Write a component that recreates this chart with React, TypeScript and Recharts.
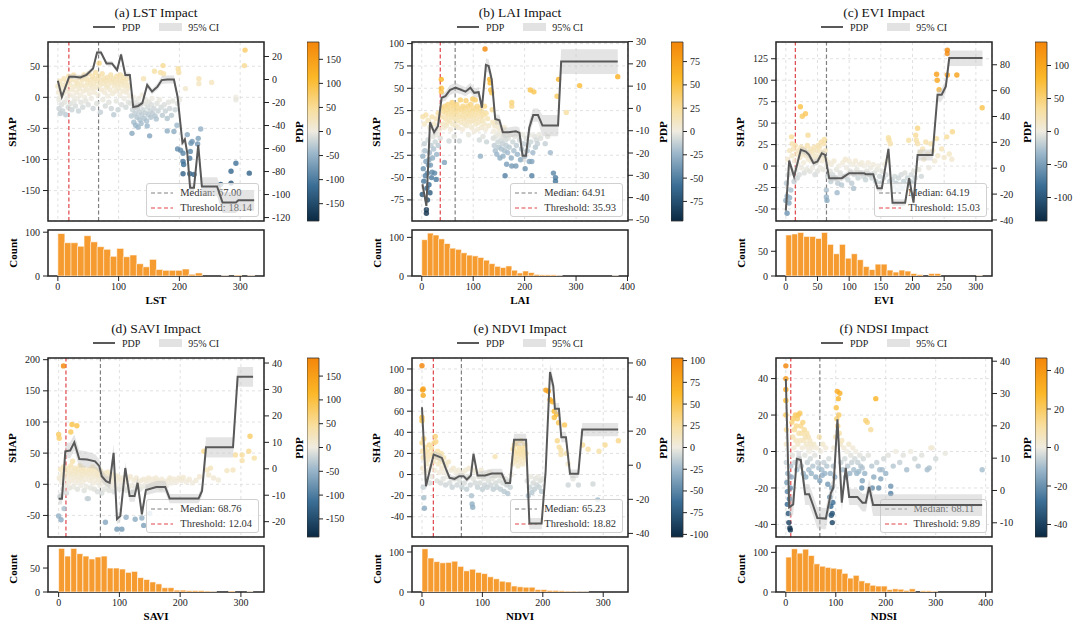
import React from "react";
import {
  ComposedChart,
  BarChart,
  Bar,
  Area,
  Line,
  Scatter,
  XAxis,
  YAxis,
  CartesianGrid,
  ReferenceLine,
  ReferenceArea,
} from "recharts";

const FONT = '"Liberation Serif", "Times New Roman", serif';

// ---------- LST ----------
const lstPoints = [
  [0,18],[1,8],[2,-4],[2,-18],[3,26],[4,12],[4,-26],[5,2],[6,-12],[7,20],[8,-22],[9,6],[10,30],[11,-8],[12,16],[13,-28],[14,24],[15,-2],[16,10],[17,-16],[18,34],[19,4],[20,20],[21,-10],[22,28],[23,-20],[24,12],[25,2],[26,36],[27,-6],[28,18],[29,-14],[30,26],[31,8],[32,-2],[33,22],[34,-22],[35,14],[36,32],[37,4],[38,-8],[39,20],[40,28],[41,-16],[42,10],[43,36],[44,0],[45,18],[46,-6],[47,30],[48,12],[49,24],[50,-12],[51,38],[52,6],[53,20],[54,28],[55,-2],[56,14],[57,34],[58,-18],[59,22],[60,8],[61,30],[62,40],[63,16],[64,-10],[65,26],[66,4],[67,34],[68,55],[69,20],[70,-24],[71,28],[72,12],[73,38],[74,-4],[75,22],[76,30],[77,8],[78,-14],[79,26],[80,16],[81,32],[82,2],[83,20],[84,-8],[85,28],[86,12],[87,36],[88,-18],[89,24],[90,6],[91,30],[92,-28],[93,18],[94,26],[95,10],[96,-6],[97,34],[98,22],[99,-20],[100,14],[101,28],[102,4],[103,36],[104,20],[105,-12],[106,26],[107,10],[108,32],[109,-2],[110,18],[111,24],[112,-16],[113,8],[114,30],[115,14],[116,-8],[117,20],[118,2],
  [120,-10],[121,-30],[122,-58],[123,-20],[124,0],[125,-40],[126,-15],[127,-26],[128,-45],[129,-8],[130,-32],[131,-18],[132,-48],[133,-2],[134,-24],[135,-36],[136,-12],[137,-42],[138,-28],[139,4],[140,-20],[141,30],[142,-34],[143,-10],[144,-25],[145,-4],[146,-38],[147,-46],[148,-16],[149,-28],[150,-8],[151,-62],[152,-22],[153,-32],[154,-12],[155,-2],[156,-26],[158,-18],[159,42],[160,-30],[162,-35],[163,-10],[165,-22],[167,-4],[169,40],[170,-16],[172,-29],[173,51],[174,38],[175,-12],[177,-22],[180,-34],[180,-54],[182,-8],[184,-18],[187,-29],[189,-6],[191,-55],[193,-20],[196,-45],[197,-10],[198,46],[199,40],[200,-4],
  [197,-83],[202,-85],[206,-90],[206,-103],[207,-108],[206,-123],[217,-123],[217,-98],[218,-87],[221,-71],[219,-74],[213,-60],[224,-124],[231,-66],[230,-75],[235,-51],[285,-119],[293,-106],[315,-122],[285,-138],[268,-140],[210,14],[232,30],[232,22],[253,24],[293,0],[293,-4],[307,51],[308,76],
];
const lstPdp = [
  [0,-1,-3,1],[6.6,-15,-17,-13],[18.7,2.4,0.5,4.5],[27,2.4,0.5,4.5],[37,1.8,0,4],[47,4,2,6],[58,9.6,7.5,11.5],[64.5,23.5,21.5,25.5],[71,23.5,21.5,25.5],[80,14,12,16],[89,14,12,16],[97.5,8.2,6,10.5],[104,21.7,19.5,24],[111,4,2,6],[118.5,4,2,6],[124,-24,-26.5,-21.5],[132,-23,-25.5,-20.5],[139,-20.6,-23,-18],[147,-4.8,-7.5,-2],[155,-10.5,-13,-8],[164,-6.2,-9,-3.5],[171,-0.5,-4,3],[180,0,-3.5,3.5],[191,0,-3.5,3.5],[197,-15,-18,-12],[205,-55,-58,-52],[209,-52,-55,-49],[213,-64,-67,-61],[217.6,-94,-97,-91],[224,-94,-97,-91],[231,-57,-60,-54],[237,-93,-101,-85],[262,-93,-101,-85],[271,-107,-116,-98],[293,-107,-116,-98],[297,-105,-114,-96],[323,-105,-114,-96],
];
const lstHist = [97,76,76,68,92,78,67,61,45,63,44,48,28,21,38,15,13,13,13,16,4,7,0,0,0,1,0,2,0,1];
const lstXTicks = [0, 100, 200, 300];
const lstShapTicks = [-150, -100, -50, 0, 50];
const lstPdpTicks = [-120, -100, -80, -60, -40, -20, 0, 20];
const lstCbarTicks = [-150, -100, -50, 0, 50, 100, 150];
const lstHistTicks = [0, 100];

// ---------- LAI ----------
const laiPoints = [
  [1,-69],[2,-26],[3,-40],[4,-54],[5,-12],[6,-20],[7,-48],[8,-32],[9,-86],[9,-90],[10,-62],[11,-45],[11,-75],[12,-8],[13,-36],[14,-58],[14,-30],[15,-22],[16,-67],[17,-36],[18,-14],[19,-50],[20,-44],[21,-28],[22,-4],[23,-18],[25,-45],[26,-10],[28,-52],[29,-24],[30,-2],[32,-14],[34,4],[36,-6],
  [2,18],[5,10],[8,20],[12,14],[16,6],[20,18],[24,10],[28,16],[32,22],
  [38,60],[38,50],[38,46],[39,18],[40,28],[41,10],[42,24],[43,6],[44,-33],[45,30],[46,16],[47,22],[48,8],[49,26],[50,12],[51,32],[52,20],[53,-9],[54,14],[55,28],[56,4],[57,24],[58,18],[59,34],[60,10],[61,22],[62,30],[63,-4],[64,16],[65,26],[66,8],[67,20],[68,32],[69,14],[70,24],[71,6],[72,28],[73,-9],[74,18],[75,37],[76,12],[77,26],[78,20],[79,4],[80,30],[81,16],[82,24],[83,10],[84,28],[85,18],[86,36],[87,8],[88,22],[89,14],[90,30],[91,-2],[92,20],[93,26],[94,12],[95,32],[96,18],[97,6],[98,24],[99,38],[100,14],[101,28],[102,2],[103,20],[104,37],[105,10],[106,26],[107,16],[108,30],[109,4],[110,22],[111,12],[112,-8],[113,28],[114,-26],[115,18],[116,6],[117,24],[118,14],[119,-4],[120,20],[121,10],[122,30],[123,94],[124,4],[125,22],[126,-10],[128,16],[130,8],[132,60],[133,56],[134,48],[136,45],[137,26],[138,12],[139,-6],
  [140,2],[141,-14],[142,8],[143,-20],[144,-4],[145,12],[146,-24],[147,0],[148,-10],[149,6],[150,-16],[151,-2],[152,-28],[153,4],[154,-8],[155,-18],[156,2],[157,-12],[158,-26],[159,-4],[160,6],[161,-20],[162,-48],[163,-8],[164,-14],[165,-35],[166,0],[167,-22],[168,-6],[170,-16],[172,-2],[174,-28],[175,30],[175,34],[175,-37],[177,-10],[179,-20],[181,-4],[183,-37],[184,-14],[186,-24],[188,0],[190,-8],[192,-30],[194,-18],[196,-2],[198,-12],[200,-26],[201,-40],[203,-6],[205,-20],[207,-14],[209,-32],[210,-2],[211,48],[212,-10],[214,-48],[214,-32],[216,-22],[218,46],[219,-4],[221,-16],[223,-8],[225,-12],[228,-2],[231,-6],
  [240,-12],[245,-4],[250,-22],[256,-45],[260,-50],[260,-54],[263,41],[266,60],[281,23],[307,53],[381,63],
];
const laiPdp = [
  [1.3,-34,-36,-32],[9,-43.7,-46,-41.5],[16,-6.2,-8,-4.5],[24,-10.7,-12.5,-9],[31.5,-8,-10,-6],[38.6,4.8,3,6.5],[46,5.5,3.5,7.5],[54.7,8.2,6,10.5],[65.6,9.3,7,11.5],[75,8.5,6.5,10.5],[85,7.5,5.5,9.5],[94.5,9.3,7,11.5],[102,7,5,9],[110.6,7.3,5,9.5],[117,0.3,-2,2.5],[124.8,19.5,16.5,22.5],[130,19,16,22],[136,13,10.5,15.5],[142.8,-4.7,-7,-2.5],[151,-5.3,-7.5,-3],[157.6,-10.7,-13,-8.5],[168.5,-10.7,-13,-8.5],[183,-10.2,-12.5,-8],[190,-11,-13.5,-8.5],[196,-21.2,-24,-18.5],[202.6,-21.2,-24,-18.5],[209,-8.7,-12,-5.5],[216.7,-3,-6,0],[226,-3,-6,0],[234.7,-7.7,-12.5,-3],[265,-7.7,-12.5,-3],[271,21,15.5,26.5],[381,21,15.5,26.5],
];
const laiHist = [94,111,106,96,84,72,69,60,54,52,48,41,32,25,22,26,15,8,13,9,4,3,3,3,1,0,0,0,0,0,0,0,0,0,1];
const laiXTicks = [0, 100, 200, 300, 400];
const laiShapTicks = [-75, -50, -25, 0, 25, 50, 75, 100];
const laiPdpTicks = [-50, -40, -30, -20, -10, 0, 10, 20, 30];
const laiCbarTicks = [-75, -50, -25, 0, 25, 50, 75];
const laiHistTicks = [0, 100];

// ---------- EVI ----------
const eviPoints = [
  [0,-40],[1,-20],[2,-35],[2,-55],[3,8],[4,-10],[5,-43],[6,-37],[6,18],[7,-2],[8,-28],[9,34],[10,12],[10,26],[11,-8],[12,20],[13,-18],[14,6],[15,24],[16,-4],[17,14],[18,-14],[19,2],[20,18],[21,-10],[22,10],[23,69],[24,22],[25,-2],[26,58],[27,14],[28,4],[29,-8],[30,20],[31,61],[32,12],[33,-4],[34,24],[35,36],[36,8],[37,16],[38,-6],[39,20],[40,6],[41,14],[42,-2],[43,18],[44,8],[45,22],[46,-10],[47,12],[48,4],[49,18],[50,-6],[51,24],[52,10],[53,22],[54,-2],[55,16],[56,28],[57,6],[58,12],[59,-4],[60,26],[61,31],[62,18],[63,8],[64,-28],[64,-36],[65,-40],[65,2],
  [66,-12],[68,4],[70,-6],[71,-18],[72,2],[74,-10],[76,6],[78,-14],[80,-4],[81,-31],[82,-20],[84,0],[86,-8],[88,-22],[90,4],[92,-12],[94,8],[96,-2],[98,-16],[100,6],[102,-6],[104,-20],[106,2],[107,-26],[108,-10],[110,6],[112,-4],[114,-14],[116,2],[118,-8],[120,4],[122,-12],[124,0],[126,-16],[128,-6],[130,4],[132,-10],[134,-2],[136,-14],[138,2],[140,-8],[142,-18],[144,-4],[146,0],[148,-12],[150,-20],[152,-6],[154,-14],[156,2],[158,-10],[160,6],[162,33],[163,30],[165,26],[164,-18],
  [168,-16],[170,-24],[172,-12],[174,-20],[176,-28],[178,-14],[180,-22],[182,-10],[184,-26],[186,-18],[188,-8],[190,-22],[192,-14],[194,30],[196,-18],[198,-10],[200,-20],[202,-6],[204,-14],[205,36],[206,30],[208,44],[208,26],[210,-4],[212,16],[214,-12],[216,20],[218,8],[221,28],[224,14],[226,-2],[229,26],[232,18],[235,6],[238,107],[238,32],[239,100],[240,12],[242,89],[246,20],[250,10],[254,34],[255,135],[255,131],[255,106],[258,14],[263,40],[262,8],[270,106],[310,68],
];
const eviPdp = [
  [0,-32.8,-35,-30.5],[5.3,5.9,3.5,8.5],[13,-6.5,-9,-4],[23.7,14.2,11.5,17],[31.6,12.9,10,15.5],[36.8,10.3,7.5,13],[43.7,3.9,1.5,6.5],[50,5.2,2.5,8],[56.8,11.6,9,14],[62,10.3,7.5,13],[68.4,-7.7,-10,-5.5],[88.4,-7.7,-10,-5.5],[100,-3.9,-6,-1.5],[123.7,-3.9,-6,-1.5],[126,-4.6,-7,-2.5],[138,-4.6,-7,-2.5],[144.7,-15.5,-18,-13],[151.6,-15.5,-18,-13],[162,15,12,18],[168.4,-26.6,-29,-24],[188.4,-26.6,-29,-24],[194.7,-7.7,-10.5,-5],[201.6,-26.6,-29,-24],[208,10.3,6,14.5],[231.6,10.3,6,14.5],[239.5,56.8,52,61.5],[246,56.8,52,61.5],[252.6,63.2,58.5,68],[258,85.2,79,91],[310.5,85.2,79,91],
];
const eviHist = [83,85,88,80,80,76,88,64,45,64,36,45,33,19,13,24,24,12,8,12,10,5,3,0,5,5,0,0,0,0,0,0,1];
const eviXTicks = [0, 50, 100, 150, 200, 250, 300];
const eviShapTicks = [-50, -25, 0, 25, 50, 75, 100, 125];
const eviPdpTicks = [-40, -20, 0, 20, 40, 60, 80];
const eviCbarTicks = [-100, -50, 0, 50, 100];
const eviHistTicks = [0, 50];

// ---------- SAVI ----------
const saviPoints = [
  [0,80],[1,74],[0,-51],[1,10],[2,-20],[3,24],[4,-57],[5,4],[6,16],[7,-8],[8,190],[8,28],[9,-39],[10,12],[11,-2],[12,20],[13,-14],[14,8],[15,26],[16,2],[17,18],[18,-6],[19,14],[20,84],[20,30],[21,6],[22,96],[22,22],[23,37],[24,-4],[25,16],[26,10],[27,26],[28,2],[29,20],[30,94],[30,12],[31,-8],[32,24],[33,6],[34,18],[35,30],[36,10],[37,-2],[38,22],[39,14],[40,4],[41,26],[42,-10],[43,18],[44,8],[45,20],[46,-4],[47,-23],[48,14],[49,-23],[50,24],[51,6],[52,16],[53,-6],[54,22],[55,10],[56,28],[57,2],[58,18],[59,-8],[60,12],[61,24],[62,4],[63,16],[64,-12],[65,20],[66,8],[67,14],[68,-2],[69,22],[70,6],[71,-14],[72,16],[73,2],[74,10],[75,-8],[76,18],[77,-61],[78,4],[79,12],[80,-4],[81,20],[82,8],[83,-10],[84,14],[85,2],[86,-6],[87,16],[88,6],[89,-2],[90,10],[91,-12],[92,4],[93,14],[94,-4],[95,8],[96,-72],[97,0],[98,12],[100,-8],[102,6],[104,-72],[104,-2],[106,10],[108,-6],[110,4],[111,-53],[112,-10],[114,8],[116,-4],[118,12],[120,-2],[122,-12],[124,6],[126,-56],[126,-6],[128,10],[130,-2],[132,4],[134,-8],[136,6],[137,-54],[138,-4],[140,-66],[140,8],[142,-2],[144,6],[146,-6],[148,10],[150,-47],[150,2],[152,-4],[154,8],[156,-2],[158,4],[160,10],[162,-4],[164,6],[166,2],[168,-6],[170,8],[172,0],[175,4],[178,-2],[180,6],[183,10],[186,2],[190,8],[194,4],[198,10],[202,6],[205,11],[210,4],[215,8],[220,2],[226,6],[232,12],
  [239,53],[244,23],[247,15],[250,26],[255,10],[263,7],[277,22],[287,23],[291,47],[302,47],[302,38],[313,53],[315,77],[322,42],
];
const saviPdp = [
  [0,-11.3,-13.5,-9],[5.5,-11.3,-13.5,-9],[11,6.6,4,9.5],[19,6.9,4,10],[25.8,10,7,13],[34,3.7,0.5,7],[46.6,3.5,0.5,6.5],[60,2.8,0,5.5],[67,1,-1.5,3.5],[71,-2.8,-5,-0.5],[78,-4.7,-6.5,-2.5],[84,-5.3,-7.5,-3],[90.5,6,2.5,9.5],[96,-19,-21,-17],[101.5,-17.9,-20,-16],[109.7,0.3,-2,2.5],[116.8,-10.3,-12.5,-8],[125,-10.3,-12.5,-8],[130,-5.3,-7.5,-3],[137,-17.2,-19.5,-15],[143.7,-8,-10,-6],[160.7,-6.9,-9,-4.5],[175.5,-6.9,-9,-4.5],[182.7,-11.2,-13,-9.5],[230.4,-11.2,-13,-9.5],[236,-8.4,-10.5,-6],[242.5,8.1,4.3,11.9],[287,8.1,4.3,11.9],[294.6,34.8,31,38.5],[320,34.8,31,38.5],
];
const saviHist = [91,75,91,80,75,69,73,75,50,50,48,41,43,30,26,21,17,9,9,4,4,3,3,3,2,1,0,0,2,0,0,1];
const saviXTicks = [0, 100, 200, 300];
const saviShapTicks = [-50, 0, 50, 100, 150, 200];
const saviPdpTicks = [-20, -10, 0, 10, 20, 30, 40];
const saviCbarTicks = [-150, -100, -50, 0, 50, 100, 150];
const saviHistTicks = [0, 50];

// ---------- NDVI ----------
const ndviPoints = [
  [0,103],[1,80],[2,81],[2,75],[0,54],[0,51],[0,30],[1,22],[2,16],[3,34],[1,6],[2,-12],[3,-22],[4,-32],[5,2],[5,26],[6,18],[7,10],[8,-4],[9,22],[10,14],[11,4],[12,28],[13,-8],[14,18],[15,8],[16,25],[17,-2],[18,20],[19,12],[20,30],[21,4],[22,36],[23,31],[24,16],[25,-6],[26,22],[27,10],[28,18],[29,2],[30,14],[31,-8],[32,20],[33,6],[34,12],[35,-4],[36,16],[37,2],[38,10],[39,-10],[40,8],[42,-2],[44,12],[46,-8],[48,4],[50,-12],[52,6],[54,-4],[56,2],[58,-10],[60,4],[62,-6],[64,0],[66,-12],[68,2],[70,-8],[72,4],[74,-14],[76,-2],[78,6],[80,-10],[82,-20],[83,-28],[84,-31],[85,-4],[86,4],[88,-8],[90,2],[92,-12],[94,-2],[96,-8],[98,4],[100,-14],[102,-4],[104,-10],[106,0],[108,-12],[110,-6],[112,2],[114,-10],[116,-4],[118,-14],[120,-2],[121,17],[122,-8],[124,-12],[126,0],[128,-6],[130,-14],[132,-2],[134,-8],[136,-16],[138,-4],[140,-10],[142,-18],[144,-6],[146,-12],[148,0],
  [150,10],[151,24],[152,16],[153,28],[154,12],[155,20],[156,30],[157,14],[158,22],[159,8],[160,18],[161,26],[162,12],[163,20],[164,32],[165,16],[166,24],[167,10],[168,22],[169,18],[170,28],[171,14],[172,20],[174,-6],[176,-20],[178,-12],[180,-2],[182,-17],[184,-8],[186,-14],[188,-4],[190,-10],[192,-2],[194,-12],[196,-6],[198,-16],[200,-4],
  [205,80],[209,79],[212,71],[216,69],[219,60],[219,54],[223,57],[224,32],[226,49],[227,26],[230,23],[230,19],[236,47],[239,20],[242,10],[242,-10],[250,-4],[259,-10],[266,28],[275,24],[283,-9],[291,-24],[293,22],[303,28],[325,32],
];
const ndviPdp = [
  [0,34,31.5,36.5],[6.6,-12.3,-14.5,-10],[19.3,6.25,4,8.5],[25.9,5.3,3,7.5],[33,4.3,2,6.5],[40,-2.5,-4.5,-0.5],[45.7,-7.4,-9,-5.5],[54,-8,-9.5,-6.5],[61.6,-6.4,-8,-4.5],[68.8,-6.4,-8,-4.5],[74.3,-8.4,-10,-6.5],[81,-6,-8,-4],[85.3,6.6,4,9],[92,-6,-8,-4],[104.6,-6,-8,-3],[115.6,-4.9,-7.5,-2],[132,-4.9,-7.5,-2],[138.7,-10.4,-12.5,-8.5],[145.8,-10.4,-12.5,-8.5],[152.4,15,11.5,18.5],[172.3,15,11.5,18.5],[177.8,-34.2,-37.5,-31],[198,-34.2,-37.5,-31],[204.7,-3.5,-6,-1],[211.9,54.7,49.5,59.5],[217.4,46.3,42,50.5],[220,33.2,30,36.5],[226.7,33.2,30,36.5],[230.6,16.4,13.5,19.5],[238.3,16.4,13.5,19.5],[245,-5,-7.5,-2.5],[258.7,-5,-7.5,-2.5],[265.3,20.9,17,24.8],[324.7,20.9,17,24.8],
];
const ndviHist = [108,85,76,73,74,77,64,53,57,49,46,38,33,27,25,15,13,12,12,6,6,4,4,3,2,2,1,1,0,0,0,0,0];
const ndviXTicks = [0, 100, 200, 300];
const ndviShapTicks = [-40, -20, 0, 20, 40, 60, 80, 100];
const ndviPdpTicks = [-40, -20, 0, 20, 40, 60];
const ndviCbarTicks = [-100, -75, -50, -25, 0, 25, 50, 75, 100];
const ndviHistTicks = [0, 100];

// ---------- NDSI ----------
const ndsiPoints = [
  [0,47],[0,40],[0,34],[0,28],[0,20],[1,12],[1,4],[1,-6],[2,-17],[3,-22],[3,-29],[4,-12],[5,-34],[6,-39],[7,-26],[8,-42],[9,-20],[9,-43],[10,-8],[11,-14],[12,16],[13,-2],[14,8],[15,18],[16,2],[17,12],[18,-6],[19,20],[20,6],[21,14],[22,-10],[23,18],[24,4],[25,20],[26,10],[27,-4],[28,21],[29,6],[30,14],[31,-8],[32,10],[33,2],[34,16],[35,-12],[36,6],[37,12],[38,-2],[39,8],[40,-14],[41,4],[42,10],[43,-6],[44,2],[45,8],[46,-10],[47,0],[48,6],[49,-4],[50,4],[51,-12],[52,2],[54,-8],[56,4],[58,-2],[60,-14],[62,2],[64,-6],[66,-9],[67,8],[68,-16],[70,0],[72,-10],[73,-13],[74,4],[76,-6],[78,-12],[80,2],[82,-8],[84,-18],[86,-4],[88,-25],[89,-12],[90,-30],[91,-35],[92,-20],[93,-39],[93,-34],[94,-28],[95,-8],[96,2],[98,-14],[100,8],
  [101,24],[102,18],[103,33],[104,14],[105,29],[106,20],[107,10],[108,32],[109,4],[110,-6],[112,6],[114,-10],[116,2],[118,-4],[120,-14],[122,0],[124,-8],[126,4],[128,-12],[130,-2],[132,-6],[134,2],[136,-10],[138,-4],[140,0],[142,-12],[144,-6],[146,-11],[148,-2],[150,-8],[152,-20],[153,-16],[153,-9],[155,-4],[158,-12],[160,17],[163,16],[165,-2],[170,12],[172,-8],[173,-20],[176,-14],[180,29],[182,-6],[186,-20],[188,-10],[190,-15],[193,-10],[196,-4],[200,-12],[205,-2],[210,-19],[210,-23],[215,-8],[220,0],[228,-6],[235,-2],[242,-10],[250,0],[258,-4],[265,-8],[272,-2],[283,-10],[287,-9],[290,2],[293,2],[300,-4],[319,-1],[393,-10],
];
const ndsiPdp = [
  [0,34.5,31.5,37.5],[6.7,-5.2,-8.5,-2],[14.7,-4.3,-7.5,-1],[22,9.8,7,12.5],[30,9.4,6.5,12],[38.7,-1.2,-4.5,2],[46.7,-1.2,-4.5,2],[55,-4.8,-8,-1.6],[63,-8.5,-11.8,-5.2],[80,-8.7,-12,-5.4],[90,-0.9,-4,2.2],[95.3,1,-2,4],[103.3,22,19,25],[112,-3.8,-6.5,-1],[120,7,4.5,9.5],[126.7,-2,-4.5,0.5],[143.3,-2,-4.5,0.5],[153.3,-3.8,-6.5,-1],[160,-3.8,-6.5,-1],[166.7,1.1,-1.5,3.5],[174.7,-4.5,-7.9,-1.2],[393,-4.5,-7.9,-1.2],
];
const ndsiHist = [88,109,98,108,92,71,65,62,60,58,47,35,42,28,23,17,15,15,6,8,7,4,8,0,3,3,2,0,0,0,0,0,0,0,0];
const ndsiXTicks = [0, 100, 200, 300, 400];
const ndsiShapTicks = [-40, -20, 0, 20, 40];
const ndsiPdpTicks = [-10, 0, 10, 20, 30, 40];
const ndsiCbarTicks = [-40, -20, 0, 20, 40];
const ndsiHistTicks = [0, 100];

// diverging colormap (navy -> cream -> orange)
const CMAP_STOPS: [number, string][] = [
  [0, "#0b2942"],
  [0.2, "#3c6f96"],
  [0.38, "#9db8cb"],
  [0.5, "#efebe0"],
  [0.62, "#f8dfa0"],
  [0.8, "#fbb829"],
  [1, "#f4860a"],
];

const hexRgb = (h: string) => [1, 3, 5].map((i) => parseInt(h.slice(i, i + 2), 16));

function cmap(t: number) {
  const v = Math.max(0, Math.min(1, t));
  for (let i = 1; i < CMAP_STOPS.length; i++) {
    const [t1, c1] = CMAP_STOPS[i];
    const [t0, c0] = CMAP_STOPS[i - 1];
    if (v <= t1) {
      const f = (v - t0) / (t1 - t0);
      const a = hexRgb(c0);
      const b = hexRgb(c1);
      const rgb = a.map((x, k) => Math.round(x + (b[k] - x) * f));
      return `rgb(${rgb.join(",")})`;
    }
  }
  return CMAP_STOPS[CMAP_STOPS.length - 1][1];
}

interface PanelSpec {
  id: string;
  title: string;
  feature: string;
  points: number[][];
  pdp: number[][];
  hist: number[];
  binWidth: number;
  median: number;
  threshold: number;
  xDomain: [number, number];
  shapDomain: [number, number];
  pdpDomain: [number, number];
  cbarMax: number;
  histMax: number;
  xTicks: number[];
  shapTicks: number[];
  pdpTicks: number[];
  cbarTicks: number[];
  histTicks: number[];
}

const PANELS: PanelSpec[] = [
  { id: "lst", title: "(a) LST Impact", feature: "LST", points: lstPoints, pdp: lstPdp, hist: lstHist, binWidth: 10.77, median: 67.0, threshold: 18.14, xDomain: [-16.2, 339.2], shapDomain: [-199, 89], pdpDomain: [-123, 32.6], cbarMax: 186, histMax: 105, xTicks: lstXTicks, shapTicks: lstShapTicks, pdpTicks: lstPdpTicks, cbarTicks: lstCbarTicks, histTicks: lstHistTicks },
  { id: "lai", title: "(b) LAI Impact", feature: "LAI", points: laiPoints, pdp: laiPdp, hist: laiHist, binWidth: 10.9, median: 64.91, threshold: 35.93, xDomain: [-19, 401], shapDomain: [-98.6, 101.8], pdpDomain: [-50.5, 29.8], cbarMax: 96, histMax: 119, xTicks: laiXTicks, shapTicks: laiShapTicks, pdpTicks: laiPdpTicks, cbarTicks: laiCbarTicks, histTicks: laiHistTicks },
  { id: "evi", title: "(c) EVI Impact", feature: "EVI", points: eviPoints, pdp: eviPdp, hist: eviHist, binWidth: 9.4, median: 64.19, threshold: 15.03, xDomain: [-15.5, 325.5], shapDomain: [-64, 144.5], pdpDomain: [-40.8, 97.6], cbarMax: 135.6, histMax: 93, xTicks: eviXTicks, shapTicks: eviShapTicks, pdpTicks: eviPdpTicks, cbarTicks: eviCbarTicks, histTicks: eviHistTicks },
  { id: "savi", title: "(d) SAVI Impact", feature: "SAVI", points: saviPoints, pdp: saviPdp, hist: saviHist, binWidth: 10, median: 68.76, threshold: 12.04, xDomain: [-17.5, 338], shapDomain: [-84.6, 202.7], pdpDomain: [-25.8, 41.9], cbarMax: 188, histMax: 96, xTicks: saviXTicks, shapTicks: saviShapTicks, pdpTicks: saviPdpTicks, cbarTicks: saviCbarTicks, histTicks: saviHistTicks },
  { id: "ndvi", title: "(e) NDVI Impact", feature: "NDVI", points: ndviPoints, pdp: ndviPdp, hist: ndviHist, binWidth: 9.85, median: 65.23, threshold: 18.82, xDomain: [-16.5, 341], shapDomain: [-59.2, 110.4], pdpDomain: [-42.1, 62.9], cbarMax: 103, histMax: 115, xTicks: ndviXTicks, shapTicks: ndviShapTicks, pdpTicks: ndviPdpTicks, cbarTicks: ndviCbarTicks, histTicks: ndviHistTicks },
  { id: "ndsi", title: "(f) NDSI Impact", feature: "NDSI", points: ndsiPoints, pdp: ndsiPdp, hist: ndsiHist, binWidth: 11.23, median: 68.11, threshold: 9.89, xDomain: [-19.7, 412.7], shapDomain: [-46.9, 51.3], pdpDomain: [-14.4, 41], cbarMax: 46.5, histMax: 116, xTicks: ndsiXTicks, shapTicks: ndsiShapTicks, pdpTicks: ndsiPdpTicks, cbarTicks: ndsiCbarTicks, histTicks: ndsiHistTicks },
];

const FRAME_W = 216;
const FRAME_H = 179;
const HIST_H = 46;
const AXIS_W = 40;
const COL_X = [48, 412, 776];
const ROW_Y = [42, 358];
const INK = "#222";
const tickStyle = { fontSize: 10, fill: INK, fontFamily: FONT };

const DashSample = ({ color }: { color: string }) => (
  <svg width={22} height={6} style={{ marginRight: 7 }}>
    <line x1={0} y1={3} x2={22} y2={3} stroke={color} strokeWidth={1.2} strokeDasharray="4 2.5" />
  </svg>
);

function Panel({ spec, left, top }: { spec: PanelSpec; left: number; top: number }) {
  const right = left + FRAME_W;
  const histTop = top + FRAME_H + 9;
  const scatterRows = spec.points.map(([x, shap]) => ({ x, shap }));
  const pdpRows = spec.pdp.map(([x, pdp, lo, hi]) => ({ x, pdp, ci: [lo, hi] }));
  const histRows = spec.hist.map((count, i) => ({ x: (i + 0.5) * spec.binWidth, count }));
  const gradId = `cbar-${spec.id}`;
  const vmax = spec.cbarMax;

  const dot = (p: any) => (
    <circle
      cx={p.cx}
      cy={p.cy}
      r={2.7}
      fill={cmap(0.5 + p.payload.shap / (2 * vmax))}
      fillOpacity={0.82}
    />
  );

  const rotLabel = (text: string, cx: number, cy: number) => (
    <div
      style={{
        position: "absolute",
        left: cx - 40,
        top: cy - 8,
        width: 80,
        height: 16,
        lineHeight: "16px",
        textAlign: "center",
        transform: "rotate(-90deg)",
        fontWeight: "bold",
        fontSize: 11,
      }}
    >
      {text}
    </div>
  );

  // the PDP axis (twin) sits on top of the SHAP axis and its legend
  const layerAxes = (withTicks: boolean) => [
    <XAxis
      key="x"
      type="number"
      dataKey="x"
      domain={spec.xDomain}
      ticks={spec.xTicks}
      allowDataOverflow
      hide
    />,
    <YAxis
      key="ys"
      yAxisId="shap"
      orientation="left"
      width={AXIS_W}
      type="number"
      domain={spec.shapDomain}
      ticks={spec.shapTicks}
      interval={0}
      allowDataOverflow
      axisLine={false}
      tickSize={5}
      tickMargin={3}
      tickLine={withTicks ? { stroke: INK } : false}
      tick={withTicks ? tickStyle : false}
    />,
    <YAxis
      key="yp"
      yAxisId="pdp"
      orientation="right"
      width={AXIS_W}
      type="number"
      domain={spec.pdpDomain}
      ticks={spec.pdpTicks}
      interval={0}
      allowDataOverflow
      axisLine={false}
      tickSize={5}
      tickMargin={3}
      tickLine={withTicks ? { stroke: INK } : false}
      tick={withTicks ? tickStyle : false}
    />,
  ];

  const chartBox = { position: "absolute" as const, left: left - AXIS_W, top: top - 5 };

  return (
    <>
      <div
        style={{
          position: "absolute",
          left,
          top: top - 38,
          width: FRAME_W,
          height: 18,
          lineHeight: "18px",
          textAlign: "center",
          fontSize: 13.5,
          color: "#111",
        }}
      >
        {spec.title}
      </div>
      <div
        style={{
          position: "absolute",
          left,
          top: top - 21,
          width: FRAME_W,
          height: 12,
          display: "flex",
          justifyContent: "center",
          alignItems: "center",
          fontSize: 10,
          color: "#222",
        }}
      >
        <svg width={22} height={8} style={{ marginRight: 7 }}>
          <line x1={0} y1={4} x2={22} y2={4} stroke="#595959" strokeWidth={2} />
        </svg>
        <span style={{ marginRight: 19 }}>PDP</span>
        <svg width={23} height={8} style={{ marginRight: 6 }}>
          <rect x={0} y={0} width={23} height={8} fill="#e2e2e2" />
        </svg>
        <span>95% CI</span>
      </div>

      {/* SHAP layer */}
      <div style={chartBox}>
        <ComposedChart
          width={FRAME_W + 2 * AXIS_W}
          height={FRAME_H + 10}
          margin={{ top: 5, right: 0, bottom: 5, left: 0 }}
        >
          <CartesianGrid yAxisId="shap" stroke="#d4d4d4" strokeDasharray="3 3" strokeWidth={0.7} />
          {layerAxes(true)}
          <Scatter
            yAxisId="shap"
            data={scatterRows}
            dataKey="shap"
            shape={dot}
            isAnimationActive={false}
          />
          <ReferenceLine yAxisId="shap" x={spec.median} stroke="#808080" strokeWidth={1.2} strokeDasharray="4 2.5" />
          <ReferenceLine yAxisId="shap" x={spec.threshold} stroke="#e0454a" strokeWidth={1.2} strokeDasharray="4 2.5" />
        </ComposedChart>
      </div>

      <div
        style={{
          position: "absolute",
          right: 1080 - (right - 5),
          bottom: 631 - (top + FRAME_H - 4),
          background: "rgba(255,255,255,0.8)",
          border: "1px solid #d0d0d0",
          borderRadius: 3,
          padding: "1px 6px 1px 4px",
          fontSize: 10.5,
          color: "#333",
          lineHeight: "15px",
        }}
      >
        <div style={{ display: "flex", alignItems: "center" }}>
          <DashSample color="#808080" />
          <span>Median: {spec.median.toFixed(2)}</span>
        </div>
        <div style={{ display: "flex", alignItems: "center" }}>
          <DashSample color="#e0454a" />
          <span>Threshold: {spec.threshold.toFixed(2)}</span>
        </div>
      </div>

      {/* PDP layer */}
      <div style={{ ...chartBox, pointerEvents: "none" }}>
        <ComposedChart
          width={FRAME_W + 2 * AXIS_W}
          height={FRAME_H + 10}
          margin={{ top: 5, right: 0, bottom: 5, left: 0 }}
        >
          {layerAxes(false)}
          <Area
            yAxisId="pdp"
            data={pdpRows}
            dataKey="ci"
            type="linear"
            stroke="none"
            fill="#c4c4c4"
            fillOpacity={0.45}
            isAnimationActive={false}
          />
          <Line
            yAxisId="pdp"
            data={pdpRows}
            dataKey="pdp"
            type="linear"
            stroke="#595959"
            strokeWidth={2}
            dot={false}
            isAnimationActive={false}
          />
          <ReferenceArea
            yAxisId="shap"
            x1={spec.xDomain[0]}
            x2={spec.xDomain[1]}
            y1={spec.shapDomain[0]}
            y2={spec.shapDomain[1]}
            fill="none"
            fillOpacity={0}
            stroke={INK}
            strokeWidth={1.5}
          />
        </ComposedChart>
      </div>

      <div style={{ position: "absolute", left: right + 43, top: top - 5 }}>
        <ComposedChart width={12 + AXIS_W} height={FRAME_H + 10} margin={{ top: 5, right: 0, bottom: 5, left: 0 }}>
          <defs>
            <linearGradient id={gradId} x1="0" y1="1" x2="0" y2="0">
              {CMAP_STOPS.map(([t, c]) => (
                <stop key={t} offset={t} stopColor={c} />
              ))}
            </linearGradient>
          </defs>
          <XAxis type="number" dataKey="x" domain={[0, 1]} hide allowDataOverflow />
          <YAxis
            yAxisId="c"
            orientation="right"
            width={AXIS_W}
            type="number"
            domain={[-vmax, vmax]}
            ticks={spec.cbarTicks}
            interval={0}
            allowDataOverflow
            axisLine={false}
            tickSize={4}
            tickMargin={3}
            tickLine={{ stroke: INK }}
            tick={tickStyle}
          />
          <ReferenceArea
            yAxisId="c"
            x1={0}
            x2={1}
            y1={-vmax}
            y2={vmax}
            fill={`url(#${gradId})`}
            fillOpacity={1}
            stroke="#333"
            strokeWidth={0.8}
          />
        </ComposedChart>
      </div>

      <div style={{ position: "absolute", left: left - AXIS_W, top: histTop - 5 }}>
        <BarChart
          width={FRAME_W + 2 * AXIS_W}
          height={HIST_H + 5 + 20}
          data={histRows}
          margin={{ top: 5, right: AXIS_W, bottom: 0, left: 0 }}
          barCategoryGap={0}
          barGap={0}
        >
          <XAxis
            type="number"
            dataKey="x"
            domain={spec.xDomain}
            ticks={spec.xTicks}
            interval={0}
            allowDataOverflow
            height={20}
            axisLine={false}
            tickSize={5}
            tickMargin={2}
            tickLine={{ stroke: INK }}
            tick={tickStyle}
          />
          <YAxis
            width={AXIS_W}
            type="number"
            domain={[0, spec.histMax]}
            ticks={spec.histTicks}
            interval={0}
            allowDataOverflow
            axisLine={false}
            tickSize={5}
            tickMargin={3}
            tickLine={{ stroke: INK }}
            tick={tickStyle}
          />
          <Bar dataKey="count" fill="#f59b2f" stroke="#ffffff" strokeWidth={0.6} isAnimationActive={false} />
          <ReferenceArea
            x1={spec.xDomain[0]}
            x2={spec.xDomain[1]}
            y1={0}
            y2={spec.histMax}
            fill="none"
            fillOpacity={0}
            stroke={INK}
            strokeWidth={1.5}
          />
        </BarChart>
      </div>

      {rotLabel("SHAP", left - 36, top + FRAME_H / 2)}
      {rotLabel("PDP", right + 35, top + FRAME_H / 2)}
      {rotLabel("Count", left - 35, histTop + HIST_H / 2)}
      <div
        style={{
          position: "absolute",
          left,
          top: histTop + HIST_H + 17,
          width: FRAME_W,
          textAlign: "center",
          fontWeight: "bold",
          fontSize: 11,
          lineHeight: "14px",
        }}
      >
        {spec.feature}
      </div>
    </>
  );
}

export default function App() {
  return (
    <div
      style={{
        position: "absolute",
        left: 0,
        top: 0,
        width: 1080,
        height: 631,
        background: "#fff",
        fontFamily: FONT,
        overflow: "hidden",
      }}
    >
      {PANELS.map((spec, i) => (
        <Panel key={spec.id} spec={spec} left={COL_X[i % 3]} top={ROW_Y[Math.floor(i / 3)]} />
      ))}
    </div>
  );
}
